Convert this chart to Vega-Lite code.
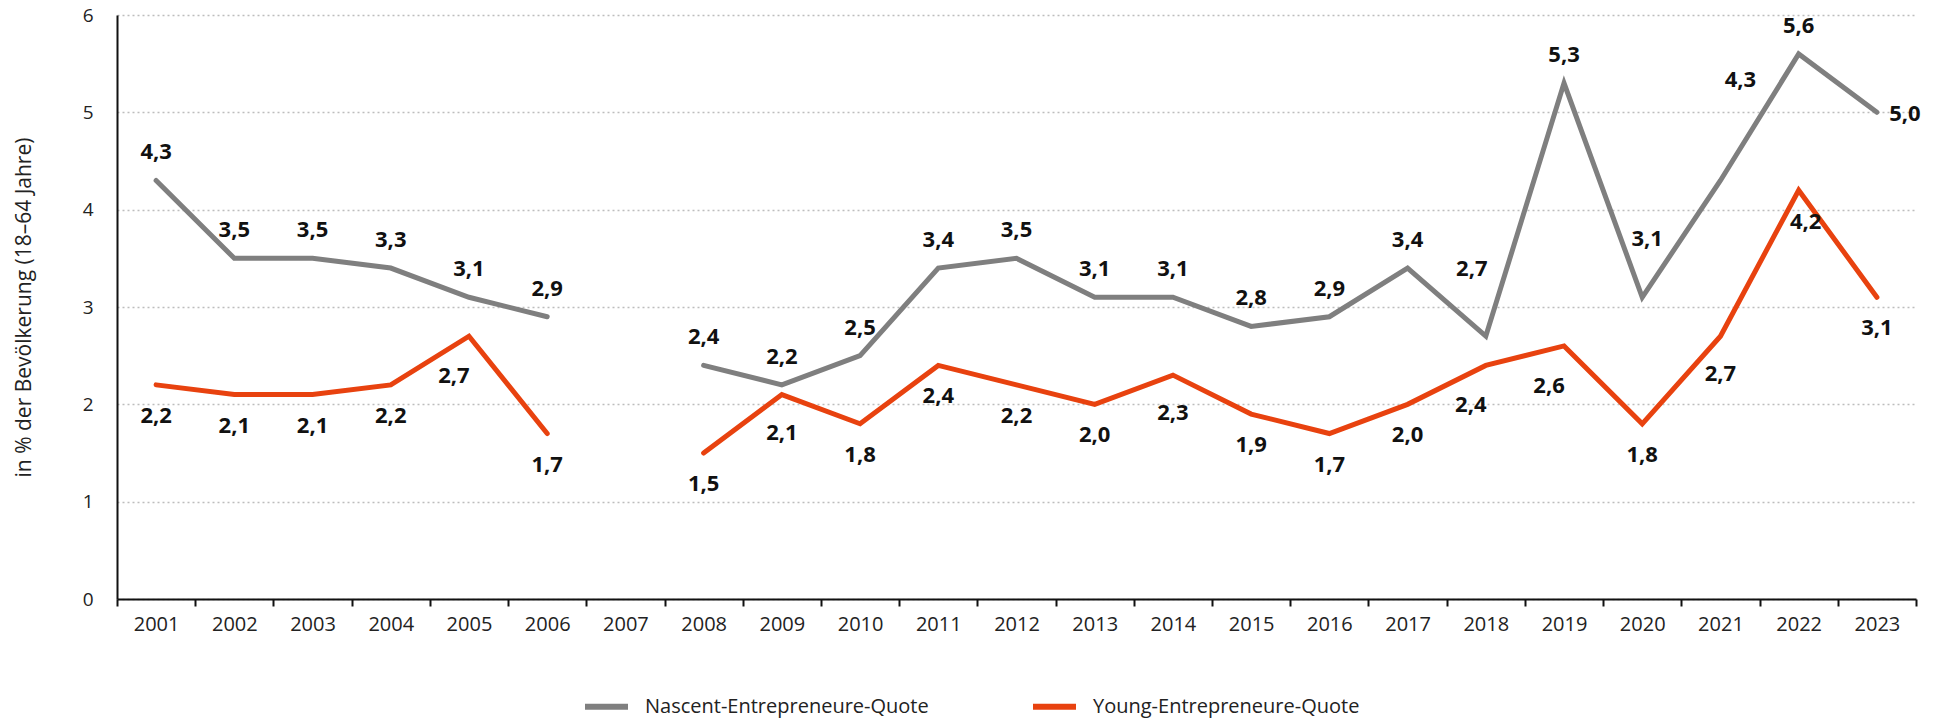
{
  "$schema": "https://vega.github.io/schema/vega-lite/v6.json",
  "width": 1799,
  "height": 584,
  "autosize": {"type": "none"},
  "padding": {"left": 117, "top": 15, "right": 25, "bottom": 119},
  "background": "white",
  "config": {
    "view": {"stroke": null},
    "font": "Open Sans",
    "axis": {"labelFont": "Open Sans", "titleFont": "Open Sans", "labelColor": "#222", "titleColor": "#222"}
  },
  "data": {
    "values": [
      {"year": "2001", "series": "Nascent-Entrepreneure-Quote", "value": 4.3, "label": "4,3"},
      {"year": "2002", "series": "Nascent-Entrepreneure-Quote", "value": 3.5, "label": "3,5"},
      {"year": "2003", "series": "Nascent-Entrepreneure-Quote", "value": 3.5, "label": "3,5"},
      {"year": "2004", "series": "Nascent-Entrepreneure-Quote", "value": 3.4, "label": "3,3"},
      {"year": "2005", "series": "Nascent-Entrepreneure-Quote", "value": 3.1, "label": "3,1"},
      {"year": "2006", "series": "Nascent-Entrepreneure-Quote", "value": 2.9, "label": "2,9"},
      {"year": "2007", "series": "Nascent-Entrepreneure-Quote", "value": null, "label": ""},
      {"year": "2008", "series": "Nascent-Entrepreneure-Quote", "value": 2.4, "label": "2,4"},
      {"year": "2009", "series": "Nascent-Entrepreneure-Quote", "value": 2.2, "label": "2,2"},
      {"year": "2010", "series": "Nascent-Entrepreneure-Quote", "value": 2.5, "label": "2,5"},
      {"year": "2011", "series": "Nascent-Entrepreneure-Quote", "value": 3.4, "label": "3,4"},
      {"year": "2012", "series": "Nascent-Entrepreneure-Quote", "value": 3.5, "label": "3,5"},
      {"year": "2013", "series": "Nascent-Entrepreneure-Quote", "value": 3.1, "label": "3,1"},
      {"year": "2014", "series": "Nascent-Entrepreneure-Quote", "value": 3.1, "label": "3,1"},
      {"year": "2015", "series": "Nascent-Entrepreneure-Quote", "value": 2.8, "label": "2,8"},
      {"year": "2016", "series": "Nascent-Entrepreneure-Quote", "value": 2.9, "label": "2,9"},
      {"year": "2017", "series": "Nascent-Entrepreneure-Quote", "value": 3.4, "label": "3,4"},
      {"year": "2018", "series": "Nascent-Entrepreneure-Quote", "value": 2.7, "label": "2,7"},
      {"year": "2019", "series": "Nascent-Entrepreneure-Quote", "value": 5.3, "label": "5,3"},
      {"year": "2020", "series": "Nascent-Entrepreneure-Quote", "value": 3.1, "label": "3,1"},
      {"year": "2021", "series": "Nascent-Entrepreneure-Quote", "value": 4.3, "label": "4,3"},
      {"year": "2022", "series": "Nascent-Entrepreneure-Quote", "value": 5.6, "label": "5,6"},
      {"year": "2023", "series": "Nascent-Entrepreneure-Quote", "value": 5.0, "label": "5,0"},
      {"year": "2001", "series": "Young-Entrepreneure-Quote", "value": 2.2, "label": "2,2"},
      {"year": "2002", "series": "Young-Entrepreneure-Quote", "value": 2.1, "label": "2,1"},
      {"year": "2003", "series": "Young-Entrepreneure-Quote", "value": 2.1, "label": "2,1"},
      {"year": "2004", "series": "Young-Entrepreneure-Quote", "value": 2.2, "label": "2,2"},
      {"year": "2005", "series": "Young-Entrepreneure-Quote", "value": 2.7, "label": "2,7"},
      {"year": "2006", "series": "Young-Entrepreneure-Quote", "value": 1.7, "label": "1,7"},
      {"year": "2007", "series": "Young-Entrepreneure-Quote", "value": null, "label": ""},
      {"year": "2008", "series": "Young-Entrepreneure-Quote", "value": 1.5, "label": "1,5"},
      {"year": "2009", "series": "Young-Entrepreneure-Quote", "value": 2.1, "label": "2,1"},
      {"year": "2010", "series": "Young-Entrepreneure-Quote", "value": 1.8, "label": "1,8"},
      {"year": "2011", "series": "Young-Entrepreneure-Quote", "value": 2.4, "label": "2,4"},
      {"year": "2012", "series": "Young-Entrepreneure-Quote", "value": 2.2, "label": "2,2"},
      {"year": "2013", "series": "Young-Entrepreneure-Quote", "value": 2.0, "label": "2,0"},
      {"year": "2014", "series": "Young-Entrepreneure-Quote", "value": 2.3, "label": "2,3"},
      {"year": "2015", "series": "Young-Entrepreneure-Quote", "value": 1.9, "label": "1,9"},
      {"year": "2016", "series": "Young-Entrepreneure-Quote", "value": 1.7, "label": "1,7"},
      {"year": "2017", "series": "Young-Entrepreneure-Quote", "value": 2.0, "label": "2,0"},
      {"year": "2018", "series": "Young-Entrepreneure-Quote", "value": 2.4, "label": "2,4"},
      {"year": "2019", "series": "Young-Entrepreneure-Quote", "value": 2.6, "label": "2,6"},
      {"year": "2020", "series": "Young-Entrepreneure-Quote", "value": 1.8, "label": "1,8"},
      {"year": "2021", "series": "Young-Entrepreneure-Quote", "value": 2.7, "label": "2,7"},
      {"year": "2022", "series": "Young-Entrepreneure-Quote", "value": 4.2, "label": "4,2"},
      {"year": "2023", "series": "Young-Entrepreneure-Quote", "value": 3.1, "label": "3,1"}
    ]
  },
  "encoding": {
    "x": {
      "field": "year",
      "type": "ordinal",
      "bandPosition": 0.5,
      "scale": {"type": "band", "paddingInner": 0, "paddingOuter": 0,
        "domain": ["2001","2002","2003","2004","2005","2006","2007","2008","2009","2010","2011","2012","2013","2014","2015","2016","2017","2018","2019","2020","2021","2022","2023"]},
      "axis": {
        "title": null,
        "labelAngle": 0,
        "labelFontSize": 20,
        "labelPadding": 8,
        "domainColor": "#111",
        "domainWidth": 2,
        "tickColor": "#111",
        "tickWidth": 2,
        "tickSize": 7,
        "tickBand": "extent",
        "grid": false
      }
    },
    "y": {
      "field": "value",
      "type": "quantitative",
      "scale": {"domain": [0, 6], "nice": false, "zero": true},
      "axis": {
        "title": "in % der Bevölkerung (18–64 Jahre)",
        "titleFontSize": 21,
        "titleFontWeight": "normal",
        "titlePadding": 48,
        "values": [0, 1, 2, 3, 4, 5, 6],
        "labelFontSize": 19,
        "labelPadding": 24,
        "ticks": false,
        "domainColor": "#111",
        "domainWidth": 2,
        "grid": true,
        "gridColor": "#bdbdbd",
        "gridDash": [2, 3],
        "gridWidth": 1.5
      }
    }
  },
  "layer": [
    {
      "mark": {"type": "line", "strokeWidth": 5, "strokeCap": "round", "strokeJoin": "miter"},
      "encoding": {
        "color": {
          "field": "series",
          "type": "nominal",
          "scale": {"domain": ["Nascent-Entrepreneure-Quote", "Young-Entrepreneure-Quote"], "range": ["#7f7f7f", "#e8420f"]},
          "legend": {
            "title": null,
            "orient": "none",
            "legendX": 465,
            "legendY": 667,
            "direction": "horizontal",
            "columns": 2,
            "columnPadding": 92,
            "symbolType": "stroke",
            "symbolSize": 1849,
            "symbolStrokeWidth": 6,
            "labelFont": "Open Sans",
            "labelFontSize": 20,
            "labelColor": "#222",
            "labelOffset": 14,
            "labelLimit": 400
          }
        }
      }
    },
    {
      "transform": [
        {"filter": "datum.value != null"},
        {"filter": {"field": "series", "equal": "Nascent-Entrepreneure-Quote"}},
        {"filter": {"not": {"field": "year", "oneOf": ["2018", "2020", "2021", "2023"]}}}
      ],
      "mark": {"type": "text", "font": "Open Sans", "fontWeight": "bold", "fontSize": 22, "color": "#111", "baseline": "middle", "dy": -28},
      "encoding": {"text": {"field": "label"}}
    },
    {
      "transform": [
        {"filter": {"field": "series", "equal": "Nascent-Entrepreneure-Quote"}},
        {"filter": {"field": "year", "oneOf": ["2020"]}}
      ],
      "mark": {"type": "text", "font": "Open Sans", "fontWeight": "bold", "fontSize": 22, "color": "#111", "baseline": "middle", "dx": 5, "dy": -58},
      "encoding": {"text": {"field": "label"}}
    },
    {
      "transform": [
        {"filter": {"field": "series", "equal": "Nascent-Entrepreneure-Quote"}},
        {"filter": {"field": "year", "oneOf": ["2018"]}}
      ],
      "mark": {"type": "text", "font": "Open Sans", "fontWeight": "bold", "fontSize": 22, "color": "#111", "baseline": "middle", "dx": -14, "dy": -67},
      "encoding": {"text": {"field": "label"}}
    },
    {
      "transform": [
        {"filter": {"field": "series", "equal": "Nascent-Entrepreneure-Quote"}},
        {"filter": {"field": "year", "oneOf": ["2021"]}}
      ],
      "mark": {"type": "text", "font": "Open Sans", "fontWeight": "bold", "fontSize": 22, "color": "#111", "baseline": "middle", "dx": 20, "dy": -100},
      "encoding": {"text": {"field": "label"}}
    },
    {
      "transform": [
        {"filter": {"field": "series", "equal": "Nascent-Entrepreneure-Quote"}},
        {"filter": {"field": "year", "oneOf": ["2023"]}}
      ],
      "mark": {"type": "text", "font": "Open Sans", "fontWeight": "bold", "fontSize": 22, "color": "#111", "baseline": "middle", "dx": 28, "dy": 2},
      "encoding": {"text": {"field": "label"}}
    },
    {
      "transform": [
        {"filter": "datum.value != null"},
        {"filter": {"field": "series", "equal": "Young-Entrepreneure-Quote"}},
        {"filter": {"not": {"field": "year", "oneOf": ["2005", "2018", "2019", "2009", "2014", "2021", "2022"]}}}
      ],
      "mark": {"type": "text", "font": "Open Sans", "fontWeight": "bold", "fontSize": 22, "color": "#111", "baseline": "middle", "dy": 31},
      "encoding": {"text": {"field": "label"}}
    },
    {
      "transform": [
        {"filter": {"field": "series", "equal": "Young-Entrepreneure-Quote"}},
        {"filter": {"field": "year", "oneOf": ["2005", "2018", "2019"]}}
      ],
      "mark": {"type": "text", "font": "Open Sans", "fontWeight": "bold", "fontSize": 22, "color": "#111", "baseline": "middle", "dx": -15, "dy": 40},
      "encoding": {"text": {"field": "label"}}
    },
    {
      "transform": [
        {"filter": {"field": "series", "equal": "Young-Entrepreneure-Quote"}},
        {"filter": {"field": "year", "oneOf": ["2009", "2014", "2021"]}}
      ],
      "mark": {"type": "text", "font": "Open Sans", "fontWeight": "bold", "fontSize": 22, "color": "#111", "baseline": "middle", "dy": 38},
      "encoding": {"text": {"field": "label"}}
    },
    {
      "transform": [
        {"filter": {"field": "series", "equal": "Young-Entrepreneure-Quote"}},
        {"filter": {"field": "year", "oneOf": ["2022"]}}
      ],
      "mark": {"type": "text", "font": "Open Sans", "fontWeight": "bold", "fontSize": 22, "color": "#111", "baseline": "middle", "dx": 7, "dy": 32},
      "encoding": {"text": {"field": "label"}}
    }
  ]
}
